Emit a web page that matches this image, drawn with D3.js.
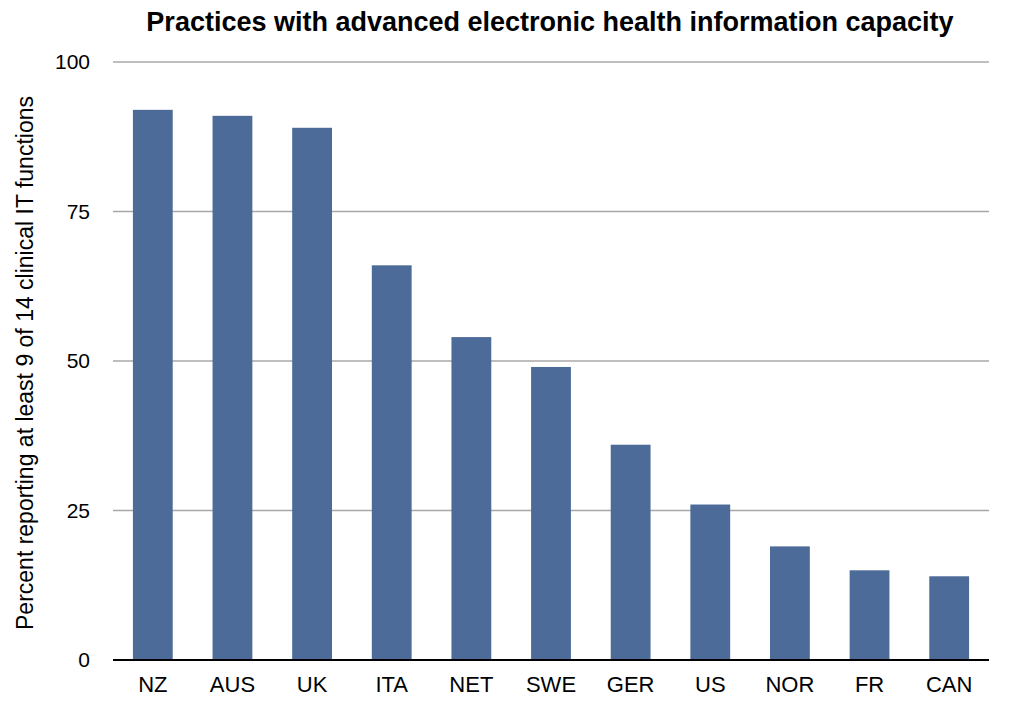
<!DOCTYPE html>
<html>
<head>
<meta charset="utf-8">
<script src="https://cdn.jsdelivr.net/npm/d3@7"></script>
<style>
  body { margin: 0; background: #fff; }
  text { font-family: "Liberation Sans", Arial, sans-serif; }
</style>
</head>
<body>
<div id="chart"></div>
<script>
var countries = ["NZ", "AUS", "UK", "ITA", "NET", "SWE", "GER", "US", "NOR", "FR", "CAN"];
var values = [92, 91, 89, 66, 54, 49, 36, 26, 19, 15, 14];
var yTicks = [0, 25, 50, 75, 100];

createchart();

function createchart() {
  var width = 1010;
  var height = 707;
  var margin = { top: 62, right: 21, bottom: 47, left: 113 };

  var svg = d3.select("#chart").append("svg")
    .attr("width", width)
    .attr("height", height);

  var x = d3.scaleBand()
    .domain(countries)
    .range([margin.left, width - margin.right])
    .paddingInner(0.5)
    .paddingOuter(0.25);

  var y = d3.scaleLinear()
    .domain([0, 100])
    .range([height - margin.bottom, margin.top]);

  // gridlines
  svg.append("g")
    .selectAll("line")
    .data(yTicks.filter(function (d) { return d > 0; }))
    .enter().append("line")
    .attr("x1", margin.left)
    .attr("x2", width - margin.right)
    .attr("y1", function (d) { return y(d); })
    .attr("y2", function (d) { return y(d); })
    .attr("stroke", "#a8a8a8")
    .attr("stroke-width", 1.5);

  // bars
  svg.append("g")
    .selectAll("rect")
    .data(values)
    .enter().append("rect")
    .attr("x", function (d, i) { return x(countries[i]); })
    .attr("y", function (d) { return y(d); })
    .attr("width", x.bandwidth())
    .attr("height", function (d) { return y(0) - y(d); })
    .attr("fill", "#4d6b99");

  // y axis labels
  var yAxis = d3.axisLeft(y).tickValues(yTicks).tickSize(0).tickPadding(23);
  var gy = svg.append("g")
    .attr("transform", "translate(" + margin.left + ",0)")
    .call(yAxis);
  gy.select(".domain").remove();
  gy.selectAll("text")
    .attr("font-size", 21)
    .attr("fill", "#000")
    .style("font-family", "Liberation Sans, Arial, sans-serif");

  // x axis
  var xAxis = d3.axisBottom(x).tickSize(0).tickPadding(16);
  var gx = svg.append("g")
    .attr("transform", "translate(0," + y(0) + ")")
    .call(xAxis);
  gx.select(".domain")
    .attr("d", "M" + margin.left + ",0H" + (width - margin.right))
    .attr("stroke", "#000")
    .attr("stroke-width", 2);
  gx.selectAll("text")
    .attr("font-size", 22)
    .attr("fill", "#000")
    .style("font-family", "Liberation Sans, Arial, sans-serif");

  // title
  svg.append("text")
    .attr("x", 550)
    .attr("y", 31)
    .attr("text-anchor", "middle")
    .attr("font-size", 27)
    .attr("font-weight", "bold")
    .text("Practices with advanced electronic health information capacity");

  // y label
  svg.append("text")
    .attr("transform", "translate(33," + 363 + ") rotate(-90)")
    .attr("text-anchor", "middle")
    .attr("font-size", 23)
    .text("Percent reporting at least 9 of 14 clinical IT functions");
}
</script>
</body>
</html>
